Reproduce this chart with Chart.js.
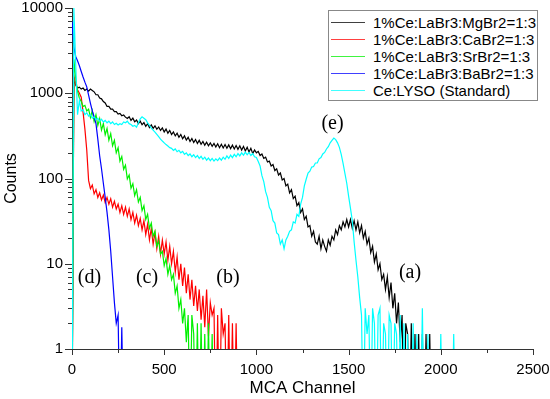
<!DOCTYPE html>
<html>
<head>
<meta charset="utf-8">
<script src="https://cdn.jsdelivr.net/npm/chart.js@4.4.0/dist/chart.umd.min.js"></script>
<style>
    body { margin: 0; background: #fff; }
    #wrap { position: relative; width: 550px; height: 399px; }
    #legend {
        position: absolute; left: 328px; top: 10px; width: 210px; height: 91px;
        box-sizing: border-box; border: 1px solid #888; background: #fff;
        padding-top: 3px; font: 15px "Liberation Sans", Arial, sans-serif; color: #000;
    }
    .row { height: 17px; display: flex; align-items: center; white-space: nowrap; }
    .swatch { width: 34px; height: 1px; margin: 0 8px 0 2px; opacity: 0.75; }
</style>
</head>
<body>
<div id="wrap">
    <canvas id="chart" width="550" height="399"></canvas>
    <div id="legend"></div>
</div>
<script>
// 시리즈 이름과 색
const seriesNames = [
    '1%Ce:LaBr3:MgBr2=1:3',
    '1%Ce:LaBr3:CaBr2=1:3',
    '1%Ce:LaBr3:SrBr2=1:3',
    '1%Ce:LaBr3:BaBr2=1:3',
    'Ce:LYSO (Standard)'
];
const seriesColors = ['#000000', '#ff0000', '#00f000', '#0000ff', '#00ffff'];

// 채널 간격 (모든 시리즈는 채널 0부터 10 채널마다 한 값)
const channelStep = 10;

// 카운트 값 (0.1 = 0 카운트, 축 아래로 잘림)
const mgCounts = [
    0.1, 1500, 1250, 1150, 1180, 1120, 1150, 1080, 1120, 1060,
    1120, 1080, 1040, 960, 960, 880, 860, 800, 770, 700,
    700, 650, 650, 610, 610, 570, 580, 545, 555, 525,
    505, 530, 480, 510, 462, 485, 440, 470, 428, 452,
    410, 440, 396, 425, 388, 415, 378, 402, 366, 392,
    352, 380, 340, 366, 328, 352, 316, 340, 304, 328,
    292, 316, 282, 304, 272, 294, 264, 286, 258, 280,
    252, 272, 246, 266, 242, 262, 238, 258, 234, 256,
    230, 252, 228, 250, 226, 248, 224, 246, 222, 244,
    220, 242, 216, 238, 210, 232, 204, 226, 196, 216,
    200, 208, 186, 194, 172, 178, 156, 160, 140, 146,
    124, 130, 110, 116, 96, 100, 82, 86, 68, 74,
    58, 62, 48, 52, 40, 44, 33, 36, 27, 28,
    21, 24, 18, 17, 21, 15, 19, 16, 14, 19,
    16.5, 21, 19, 25, 22, 28, 25, 31, 27, 33,
    27, 33, 26, 32, 25, 31, 23, 28, 20, 24,
    17, 20, 13.5, 16, 10.5, 13, 8.5, 10, 6.5, 7.5,
    5, 7, 4, 6, 3, 4.5, 2, 3.5, 1.2, 2.5,
    0.1, 2, 1.5, 0.1, 2, 0.1, 1.5, 0.1, 1.5, 0.1,
    1.5, 0.1, 1.5, 0.1, 1.5, 0.1
];
const caCounts = [
    0.1, 1600, 1300, 1100, 1000, 900, 600, 380, 216, 95,
    76, 84, 66, 74, 60, 68, 56, 64, 52, 60,
    50, 58, 46, 54, 44, 50, 40, 48, 38, 46,
    36, 44, 33, 40, 30, 37, 28, 34, 25, 32,
    22, 29, 19, 26, 17, 23, 15, 21, 13, 19,
    13, 18, 11, 16, 10, 14, 8, 12, 6.5, 10,
    5.5, 9, 4.5, 7.5, 3.8, 6.5, 3.2, 5.5, 2.8, 5,
    2.2, 4.2, 1.8, 5, 1.4, 3.5, 2.5, 3, 0.1, 2.5,
    0.1, 3, 1.5, 2, 0.1, 2.5, 0.1, 2, 0.1, 2,
    0.1
];
const srCounts = [
    0.1, 2500, 1500, 1050, 880, 800, 700, 720, 620, 650,
    520, 627, 466, 560, 418, 504, 370, 442, 326, 386,
    282, 336, 242, 280, 200, 230, 160, 181, 128, 143,
    99, 110, 77, 87, 63, 74, 53, 60, 42, 48,
    33, 38, 26, 30, 21, 24, 16, 18.5, 13, 14,
    9.5, 11.5, 7.5, 9.5, 6.5, 7.5, 4.5, 5.5, 3, 3.8,
    2, 3, 1.2, 2.5, 0.1, 2.5, 1.5, 0.1, 2, 0.1,
    2, 0.1, 1.5, 0.1, 2, 0.1, 1.5, 0.1
];
const baCounts = [
    7000, 3500, 2700, 2400, 2100, 1800, 1550, 1350, 1190, 950,
    760, 620, 530, 440, 290, 185, 130, 88, 60, 40,
    25, 14, 7, 3.5, 2, 2.5, 0.1, 1.8, 0.1
];
const lysoCounts = [
    0.1, 10000, 2200, 560, 820, 620, 640, 560, 590, 540,
    560, 510, 530, 490, 510, 470, 495, 460, 480, 450,
    470, 440, 460, 430, 445, 425, 440, 430, 460, 450,
    470, 440, 430, 410, 420, 400, 450, 500, 530, 510,
    490, 450, 420, 390, 370, 350, 330, 310, 290, 275,
    262, 250, 240, 230, 226, 214, 222, 206, 214, 200,
    208, 192, 200, 186, 194, 180, 190, 176, 186, 172,
    182, 168, 178, 164, 174, 162, 172, 160, 170, 162,
    174, 164, 178, 168, 184, 172, 188, 176, 192, 180,
    196, 184, 200, 188, 204, 190, 202, 186, 196, 180,
    176, 158, 140, 108, 92, 70, 60, 46, 42, 32,
    30, 23, 22, 17, 19, 15, 19, 21, 24, 25,
    31, 30, 38, 36, 50, 60, 82, 98, 116, 122,
    136, 138, 152, 152, 170, 176, 194, 202, 222, 236,
    262, 280, 298, 286, 262, 232, 192, 150, 115, 88,
    62, 45, 32, 18, 11, 7, 4, 2.5, 0.1, 3,
    1.5, 2.5, 0.1, 3, 2, 0.1, 2.5, 3, 0.1, 2,
    1.5, 0.1, 2.5, 2, 0.1, 2, 1.5, 0.1, 2.5, 0.1,
    2, 0.1, 1.5, 0.1, 0.1, 2, 0.1, 1.5, 0.1, 0.1,
    3, 0.1, 0.1, 1.5, 0.1, 0.1, 0.1, 0.1, 0.1, 0.1,
    1.5, 0.1, 0.1, 0.1, 0.1, 0.1, 0.1, 1.5, 0.1
];
const seriesCounts = [mgCounts, caCounts, srCounts, baCounts, lysoCounts];

// 축 눈금
const xTicks = [0, 250, 500, 750, 1000, 1250, 1500, 1750, 2000, 2250, 2500];
const xTickLabels = [0, 500, 1000, 1500, 2000, 2500];
const yTickLabels = [1, 10, 100, 1000, 10000];

// 피크 표시 (a)~(e)
const peakTags = ['(a)', '(b)', '(c)', '(d)', '(e)'];
const peakTagChannel = [1833, 846, 407, 95, 1413];
const peakTagCounts = [7.8, 6.8, 6.8, 6.8, 436];

const FONT = '"Liberation Sans", Arial, sans-serif';

// 로그 축 보조 눈금 (1~9 x 10^n)
const yTicks = [];
yTickLabels.forEach((d, i) => {
    if (i === yTickLabels.length - 1) { yTicks.push(d); return; }
    for (let k = 1; k < 10; k++) yTicks.push(k * d);
});

// 눈금 표시 + 피크 라벨 플러그인
const axisMarks = {
    id: 'axisMarks',
    afterDraw(chart) {
        const ctx = chart.ctx;
        const xs = chart.scales.x, ys = chart.scales.y;
        ctx.save();
        ctx.strokeStyle = '#333';
        ctx.lineWidth = 1;
        ctx.beginPath();
        ys.ticks.forEach(t => {
            const py = Math.round(ys.getPixelForValue(t.value)) + 0.5;
            const len = yTickLabels.includes(t.value) ? 7 : 4;
            ctx.moveTo(ys.right - len, py);
            ctx.lineTo(ys.right, py);
        });
        xs.ticks.forEach(t => {
            const px = Math.round(xs.getPixelForValue(t.value)) + 0.5;
            const len = xTickLabels.includes(t.value) ? 6 : 4;
            ctx.moveTo(px, xs.top);
            ctx.lineTo(px, xs.top + len);
        });
        ctx.stroke();

        ctx.fillStyle = '#000';
        ctx.font = '20px "Liberation Serif", "Times New Roman", serif';
        ctx.textAlign = 'center';
        ctx.textBaseline = 'middle';
        peakTags.forEach((tag, i) => {
            ctx.fillText(tag, xs.getPixelForValue(peakTagChannel[i]), ys.getPixelForValue(peakTagCounts[i]));
        });
        ctx.restore();
    }
};

const datasets = seriesNames.map((name, i) => ({
    label: name,
    data: seriesCounts[i].map((v, k) => ({ x: k * channelStep, y: v })),
    borderColor: seriesColors[i],
    backgroundColor: seriesColors[i],
    borderWidth: 1.2,
    pointRadius: 0,
    tension: 0,
    fill: false,
    order: seriesNames.length - i
}));

new Chart(document.getElementById('chart'), {
    type: 'line',
    data: { datasets },
    options: {
        responsive: false,
        animation: false,
        layout: { padding: { top: 8, right: 17, left: 0, bottom: 0 } },
        plugins: { legend: { display: false }, tooltip: { enabled: false } },
        scales: {
            x: {
                type: 'linear',
                min: 0,
                max: 2500,
                afterBuildTicks: s => { s.ticks = xTicks.map(v => ({ value: v })); },
                afterFit: s => { s.height = 50; s.paddingLeft = 0; s.paddingRight = 0; },
                grid: { display: false, drawTicks: false },
                border: { display: true, color: '#333', width: 1 },
                ticks: {
                    autoSkip: false, maxRotation: 0, padding: 12, color: '#000',
                    font: { family: FONT, size: 15 },
                    callback: v => xTickLabels.includes(v) ? String(v) : ''
                },
                title: {
                    display: true, text: 'MCA Channel', color: '#000',
                    font: { family: FONT, size: 17 }, padding: { top: 0, bottom: 0 }
                }
            },
            y: {
                type: 'logarithmic',
                min: 1,
                max: 10000,
                afterBuildTicks: s => { s.ticks = yTicks.map(v => ({ value: v })); },
                afterFit: s => { s.width = 72; s.paddingTop = 0; s.paddingBottom = 0; },
                grid: { display: false, drawTicks: false },
                border: { display: true, color: '#333', width: 1 },
                ticks: {
                    autoSkip: false, padding: 9, color: '#000',
                    font: { family: FONT, size: 15 },
                    callback: v => yTickLabels.includes(v) ? String(v) : ''
                },
                title: {
                    display: true, text: 'Counts', color: '#000',
                    font: { family: FONT, size: 16 }, padding: { top: 2, bottom: 0 }
                }
            }
        }
    },
    plugins: [axisMarks]
});

// 범례
const legend = document.getElementById('legend');
seriesNames.forEach((name, i) => {
    const row = document.createElement('div');
    row.className = 'row';
    const sw = document.createElement('span');
    sw.className = 'swatch';
    sw.style.background = seriesColors[i];
    const txt = document.createElement('span');
    txt.textContent = name;
    row.appendChild(sw);
    row.appendChild(txt);
    legend.appendChild(row);
});
</script>
</body>
</html>
